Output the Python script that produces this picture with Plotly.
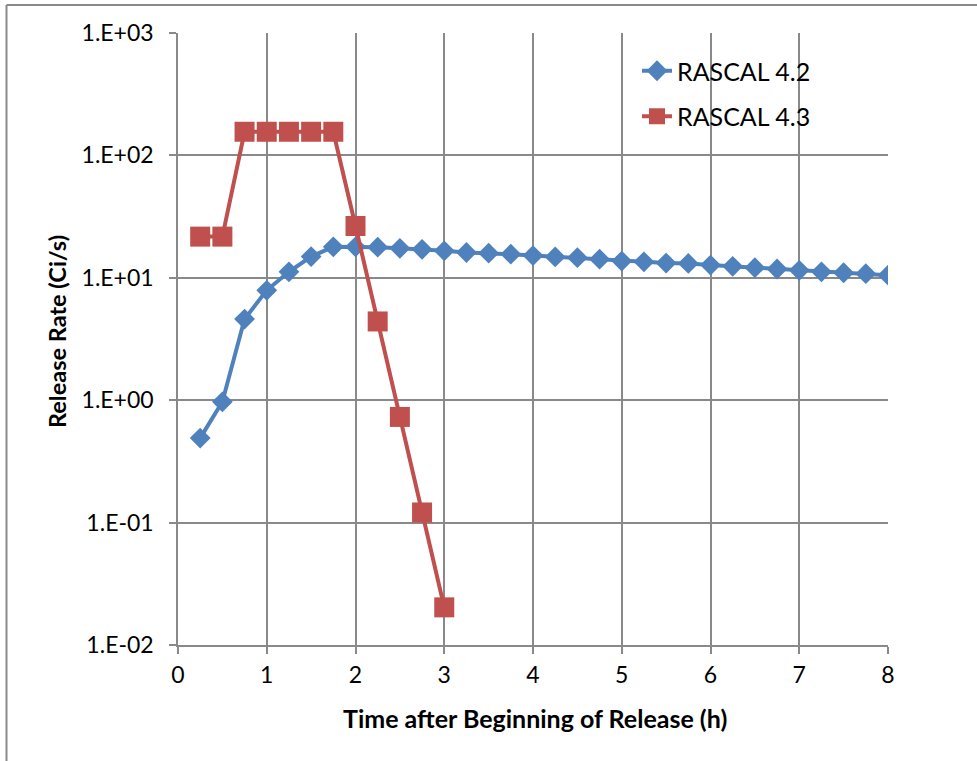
import plotly.graph_objects as go

# ---- data ----
time_h = [0.25, 0.5, 0.75, 1.0, 1.25, 1.5, 1.75, 2.0, 2.25, 2.5, 2.75, 3.0,
          3.25, 3.5, 3.75, 4.0, 4.25, 4.5, 4.75, 5.0, 5.25, 5.5, 5.75, 6.0,
          6.25, 6.5, 6.75, 7.0, 7.25, 7.5, 7.75, 8.0]
rascal_42 = [0.49, 0.97, 4.6, 7.9, 11.2, 14.9, 17.9, 17.9, 17.8, 17.4, 17.1, 16.6,
             16.1, 15.9, 15.6, 15.2, 14.8, 14.6, 14.2, 13.7, 13.5, 13.2, 13.1, 12.7,
             12.4, 12.1, 11.8, 11.5, 11.2, 11.0, 10.8, 10.5]
time_h_43 = [0.25, 0.5, 0.75, 1.0, 1.25, 1.5, 1.75, 2.0, 2.25, 2.5, 2.75, 3.0]
rascal_43 = [21.7, 21.7, 156, 156, 156, 156, 156, 26.5, 4.4, 0.73, 0.121, 0.0203]

y_tickvals = [0.01, 0.1, 1, 10, 100, 1000]
y_ticktext = ["1.E-02", "1.E-01", "1.E+00", "1.E+01", "1.E+02", "1.E+03"]
x_tickvals = [0, 1, 2, 3, 4, 5, 6, 7, 8]

FONT = "Lato"
GRID = "#898989"

fig = go.Figure()
fig.add_trace(go.Scatter(
    x=time_h, y=rascal_42, name="RASCAL 4.2", mode="lines+markers",
    line=dict(color="#4F81BD", width=4),
    marker=dict(symbol="diamond", size=16, color="#4F81BD"),
    legendgroup="a"))
fig.add_trace(go.Scatter(
    x=time_h_43, y=rascal_43, name="RASCAL 4.3", mode="lines+markers",
    line=dict(color="#C0504D", width=4),
    marker=dict(symbol="square", size=20, color="#C0504D"),
    legendgroup="b"))

L, R, T, B = 178, 89, 33, 116
W, H = 977, 761
pw, ph = W - L - R, H - T - B

def px(xp):
    return (xp - L) / pw

def py(yp):
    return (H - B - yp) / ph

fig.update_layout(
    width=W, height=H,
    margin=dict(l=L, r=R, t=T, b=B, pad=0),
    paper_bgcolor="white", plot_bgcolor="white",
    font=dict(family=FONT, size=23, color="black"),
    showlegend=True,
    legend=dict(x=px(637), y=py(48), xanchor="left", yanchor="top",
                bgcolor="rgba(0,0,0,0)", font=dict(size=25, family=FONT),
                tracegroupgap=10, traceorder="grouped", itemwidth=30),
    xaxis=dict(range=[0, 8], tickvals=x_tickvals, showgrid=True, gridcolor=GRID,
               gridwidth=1.5, showline=True, linecolor=GRID, linewidth=1.5,
               ticks="outside", ticklen=7, tickwidth=1.5, tickcolor=GRID,
               zeroline=False, tickfont=dict(size=23, family=FONT),
               ticklabelstandoff=2),
    yaxis=dict(type="log", range=[-2, 3], tickvals=y_tickvals, ticktext=y_ticktext,
               showgrid=True, gridcolor=GRID, gridwidth=1.5, showline=True,
               linecolor=GRID, linewidth=1.5, ticks="outside", ticklen=7,
               tickwidth=1.5, tickcolor=GRID, zeroline=False,
               tickfont=dict(size=23, family=FONT), ticklabelstandoff=11),
    annotations=[
        dict(text="<b>Time after Beginning of Release (h)</b>", xref="paper", yref="paper",
             x=px(535), y=py(718), xanchor="center", yanchor="middle", showarrow=False,
             font=dict(size=25, family=FONT)),
        dict(text="<b>Release Rate (Ci/s)</b>", xref="paper", yref="paper",
             x=px(57), y=py(332), xanchor="center", yanchor="middle", showarrow=False,
             textangle=-90, font=dict(size=23.5, family=FONT)),
    ],
    shapes=[
        dict(type="line", xref="paper", yref="paper", x0=px(6.5), x1=px(1000),
             y0=py(5), y1=py(5), line=dict(color=GRID, width=2)),
        dict(type="line", xref="paper", yref="paper", x0=px(6.5), x1=px(6.5),
             y0=py(5), y1=py(800), line=dict(color=GRID, width=2)),
    ],
)

fig.write_html("out.html")
